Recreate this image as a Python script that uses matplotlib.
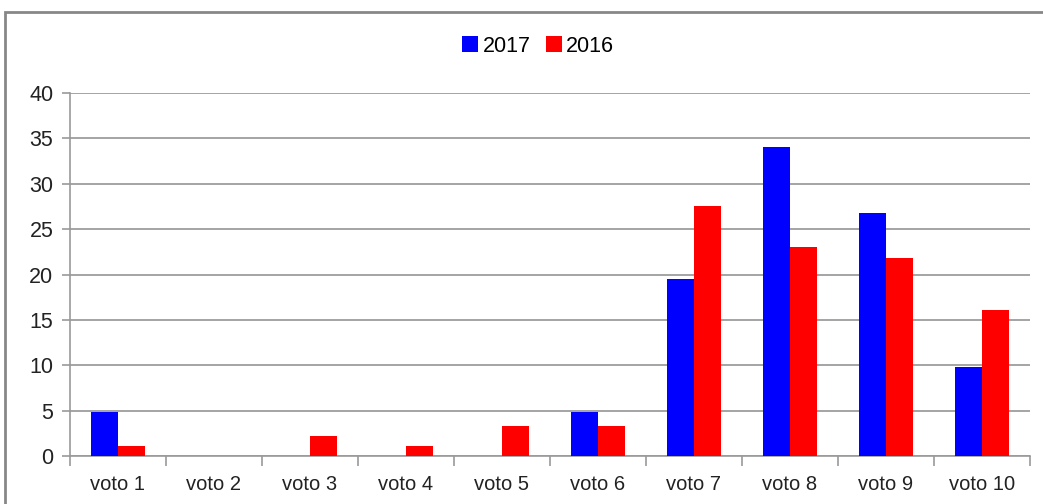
import numpy as np
import matplotlib
matplotlib.use("Agg")
import matplotlib.pyplot as plt
from matplotlib.patches import Rectangle

categories = ["voto 1", "voto 2", "voto 3", "voto 4", "voto 5",
              "voto 6", "voto 7", "voto 8", "voto 9", "voto 10"]
vals_2017 = [4.9, 0, 0, 0, 0, 4.9, 19.5, 34.1, 26.8, 9.8]
vals_2016 = [1.1, 0, 2.2, 1.1, 3.3, 3.3, 27.5, 23.0, 21.8, 16.1]
yticks = [0, 5, 10, 15, 20, 25, 30, 35, 40]

plt.rcParams["font.family"] = ["Liberation Sans", "DejaVu Sans"]

fig = plt.figure(figsize=(10.43, 5.04), dpi=100)
ax = fig.add_axes([0.0671, 0.0952, 0.9204, 0.7203])

# outer chart frame, running off the right and bottom edges
fig.patches.append(Rectangle((5 / 1043, -0.05), 1.1, 0.976 + 0.05,
                             transform=fig.transFigure, fill=False,
                             edgecolor="#878787", linewidth=2.0,
                             clip_on=False))

x = np.arange(len(categories))
w = 0.286
ax.bar(x - w / 2, vals_2017, w, color="#0000ff", label="2017", zorder=3)
ax.bar(x + w / 2, vals_2016, w, color="#ff0000", label="2016", zorder=3)

ax.set_xlim(-0.5, len(categories) - 0.5)
ax.set_ylim(0, 40)
ax.set_yticks(yticks)
ax.yaxis.grid(True, color="#8c8c8c", linewidth=1.1, zorder=0)
ax.set_axisbelow(True)

ax.set_xticks(x)
ax.set_xticklabels(categories, fontsize=14.5, color="#222222")
ax.tick_params(axis="x", length=0, pad=14)
ax.set_xticks(np.arange(-0.5, len(categories)), minor=True)
ax.tick_params(axis="x", which="minor", length=7, color="#999999", width=1.2)
ax.tick_params(axis="y", length=6, color="#999999", width=1.2,
               labelsize=15.5, colors="#222222", pad=6)

for s in ["top", "right"]:
    ax.spines[s].set_visible(False)
for s in ["left", "bottom"]:
    ax.spines[s].set_color("#999999")
    ax.spines[s].set_linewidth(1.2)

fig.legend(loc="center", bbox_to_anchor=(538 / 1043, 1 - 46 / 504),
           ncol=2, frameon=False, fontsize=15.5, handlelength=0.75,
           handleheight=0.75, handletextpad=0.2, columnspacing=0.7)

fig.savefig("out.png", dpi=100)
